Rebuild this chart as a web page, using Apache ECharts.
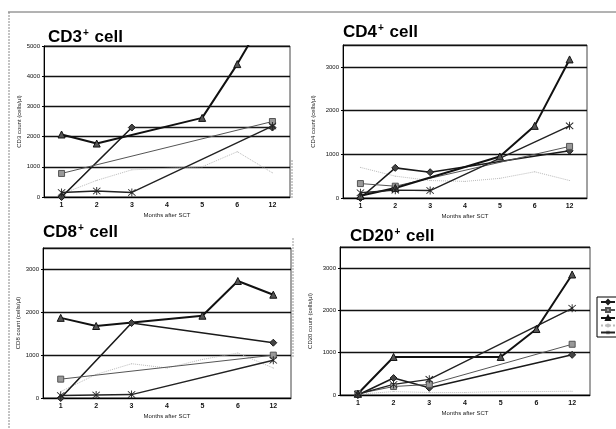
<!DOCTYPE html>
<html>
<head>
<meta charset="utf-8">
<title>Lymphocyte subsets after SCT</title>
<script src="https://cdn.jsdelivr.net/npm/echarts@6/dist/echarts.min.js"></script>
<style>
  html, body { margin: 0; padding: 0; background: #fff; }
  #main { width: 616px; height: 429px; }
</style>
</head>
<body>
<div id="main"></div>
<script type="text/javascript">
// months after SCT (category axis)
var months = ['1', '2', '3', '4', '5', '6', '12'];
var caseNames = ['Case 1', 'Case 2', 'Case 3', 'Case 4', 'Case 5'];

// CD3 (cells/ul)
var cd3Case1 = [0, null, 2300, null, null, null, 2300];
var cd3Case2 = [780, null, null, null, null, null, 2500];
var cd3Case3 = [2070, 1770, null, null, 2620, 4400, 6400];
var cd3Case4 = [100, 550, 900, null, 1000, 1500, 800];
var cd3Case5 = [150, 200, 150, null, null, null, 2350];

// CD4
var cd4Case1 = [0, 690, 590, null, null, null, 1080];
var cd4Case2 = [330, 270, null, null, null, null, 1180];
var cd4Case3 = [50, 230, null, null, 950, 1650, 3170];
var cd4Case4 = [700, 500, 400, 380, 450, 600, 400];
var cd4Case5 = [120, 180, 170, null, null, null, 1650];

// CD8
var cd8Case1 = [0, null, 1750, null, null, null, 1290];
var cd8Case2 = [440, null, null, null, null, null, 1000];
var cd8Case3 = [1870, 1680, null, null, 1920, 2730, 2410];
var cd8Case4 = [150, 550, 800, 700, 900, 1050, 700];
var cd8Case5 = [60, 70, 80, null, null, null, 880];

// CD20
var cd20Case1 = [0, 400, 170, null, null, null, 950];
var cd20Case2 = [30, 200, 250, null, null, null, 1200];
var cd20Case3 = [30, 900, null, null, 900, 1560, 2850];
var cd20Case4 = [20, 80, 60, 60, 80, 80, 90];
var cd20Case5 = [20, 250, 370, null, null, null, 2050];

var FONT = 'Liberation Sans, Arial, sans-serif';
var STAR = 'path://M4.5,0 L5.5,0 L5.5,10 L4.5,10 Z M0.6,1.3 L1.3,0.6 L9.4,8.7 L8.7,9.4 Z M8.7,0.6 L9.4,1.3 L1.3,9.4 L0.6,8.7 Z';

// look of each case (line + marker)
var looks = [
    { symbol: 'diamond', size: 7, line: '#1a1a1a', width: 1.6, fill: '#444', type: 'solid' },
    { symbol: 'rect', size: 6, line: '#555', width: 1, fill: '#999', type: 'solid' },
    { symbol: 'triangle', size: 7, line: '#111', width: 2, fill: '#555', type: 'solid' },
    { symbol: 'circle', size: 1, line: '#bbb', width: 1, fill: '#bbb', type: 'dotted' },
    { symbol: STAR, size: 8, line: '#222', width: 1.4, fill: '#222', type: 'solid' }
];

function panelSeries(idx, lists) {
    return lists.map(function (d, k) {
        var lk = looks[k];
        return {
            name: caseNames[k],
            type: 'line',
            xAxisIndex: idx,
            yAxisIndex: idx,
            data: d,
            connectNulls: true,
            symbol: lk.symbol,
            symbolSize: lk.size,
            showAllSymbol: true,
            lineStyle: { color: lk.line, width: lk.width, type: lk.type },
            itemStyle: { color: lk.fill, borderColor: lk.line, borderWidth: k === 4 || k === 3 ? 0 : 1 },
            z: k === 3 ? 1 : 3,
            animation: false
        };
    });
}

// grid boxes (pixels)
var grids = [
    { left: 44, top: 46, width: 246, height: 151 },
    { left: 343, top: 45, width: 244, height: 153 },
    { left: 43, top: 248, width: 248, height: 150 },
    { left: 340, top: 247, width: 250, height: 148 }
];
var yMax = [5000, 3500, 3500, 3500];
var yNames = ['CD3 count (cells/\u03bcl)', 'CD4 count (cells/\u03bcl)', 'CD8 count (cells/\u03bcl)', 'CD20 count (cells/\u03bcl)'];
var yGap = [21, 27, 21, 27];
var titles = [
    { c: 'CD3', left: 48, top: 28 },
    { c: 'CD4', left: 343, top: 23 },
    { c: 'CD8', left: 43, top: 223 },
    { c: 'CD20', left: 350, top: 227 }
];

var myChart = echarts.init(document.getElementById('main'), null, { renderer: 'canvas' });

var option = {
    backgroundColor: '#fff',
    animation: false,
    title: titles.map(function (t) {
        return {
            text: '{a|' + t.c + '}{b|+}{a| cell}',
            left: t.left,
            top: t.top,
            padding: 0,
            textStyle: {
                rich: {
                    a: { fontFamily: FONT, fontSize: 17, fontWeight: 'bold', color: '#000', lineHeight: 18 },
                    b: { fontFamily: FONT, fontSize: 10, fontWeight: 'bold', color: '#000', padding: [0, 1, 7, 1], lineHeight: 18 }
                }
            }
        };
    }),
    legend: {
        orient: 'vertical',
        left: 597,
        top: 297,
        padding: [2, 2, 2, 3],
        itemGap: 2,
        itemWidth: 14,
        itemHeight: 5,
        borderColor: '#000',
        borderWidth: 1,
        backgroundColor: '#fff',
        data: caseNames,
        textStyle: { fontSize: 5, fontFamily: FONT, color: '#000' }
    },
    grid: grids.map(function (g) {
        return {
            left: g.left, top: g.top, width: g.width, height: g.height,
            show: true, borderColor: '#444', borderWidth: 1, backgroundColor: '#fff'
        };
    }),
    xAxis: grids.map(function (g, i) {
        return {
            type: 'category',
            gridIndex: i,
            data: months,
            boundaryGap: true,
            name: 'Months after SCT',
            nameLocation: 'middle',
            nameGap: 15,
            nameTextStyle: { fontSize: 6, fontFamily: FONT, color: '#222' },
            axisLine: { lineStyle: { color: '#000', width: 1 } },
            axisTick: { length: 2, lineStyle: { color: '#000' } },
            axisLabel: { fontSize: 7, fontWeight: 'bold', fontFamily: FONT, color: '#111', margin: 5 },
            splitLine: { show: false }
        };
    }),
    yAxis: grids.map(function (g, i) {
        return {
            type: 'value',
            gridIndex: i,
            min: 0,
            max: yMax[i],
            interval: 1000,
            name: yNames[i],
            nameLocation: 'middle',
            nameRotate: 90,
            nameGap: yGap[i],
            nameTextStyle: { fontSize: 6, fontFamily: FONT, color: '#222' },
            axisLine: { show: true, lineStyle: { color: '#000', width: 1 } },
            axisTick: { show: true, length: 2, lineStyle: { color: '#000' } },
            axisLabel: {
                fontSize: 6, fontFamily: FONT, color: '#111', margin: 4,
                showMaxLabel: yMax[i] === 5000,
                formatter: function (v) { return String(v); }
            },
            splitLine: { lineStyle: { color: '#111', width: 1.3 } }
        };
    }),
    graphic: [
        { type: 'line', shape: { x1: 8, y1: 12, x2: 616, y2: 12 }, style: { stroke: '#666', lineWidth: 1 } },
        { type: 'line', shape: { x1: 9, y1: 12, x2: 9, y2: 429 }, style: { stroke: '#888', lineWidth: 1, lineDash: [2, 1] } },
        { type: 'line', shape: { x1: 292, y1: 160, x2: 292, y2: 198 }, style: { stroke: '#999', lineWidth: 1, lineDash: [2, 1] } },
        { type: 'line', shape: { x1: 293, y1: 238, x2: 293, y2: 357 }, style: { stroke: '#999', lineWidth: 1, lineDash: [2, 1] } }
    ],
    series: [].concat(
        panelSeries(0, [cd3Case1, cd3Case2, cd3Case3, cd3Case4, cd3Case5]),
        panelSeries(1, [cd4Case1, cd4Case2, cd4Case3, cd4Case4, cd4Case5]),
        panelSeries(2, [cd8Case1, cd8Case2, cd8Case3, cd8Case4, cd8Case5]),
        panelSeries(3, [cd20Case1, cd20Case2, cd20Case3, cd20Case4, cd20Case5])
    )
};

myChart.setOption(option);
</script>
</body>
</html>
